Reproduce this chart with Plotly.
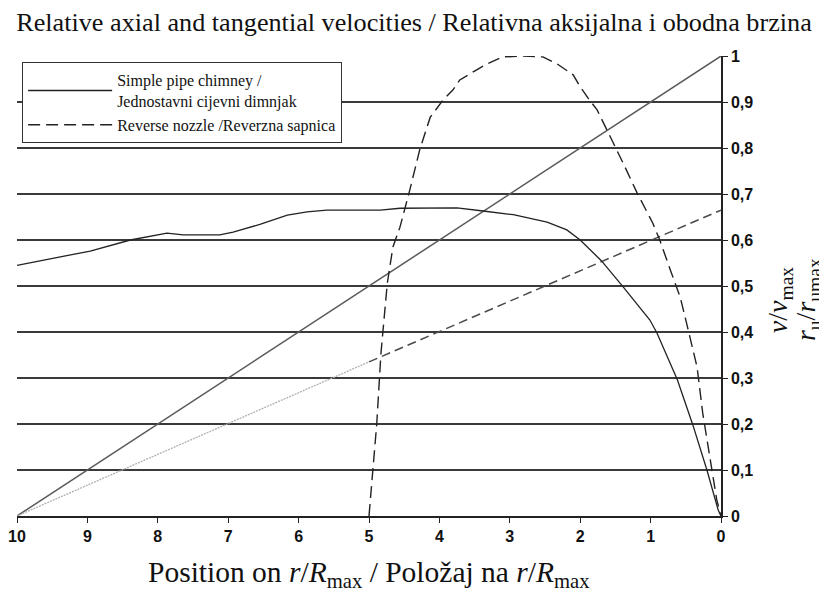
import plotly.graph_objects as go

# ---- data ----
x_ticks = [10, 9, 8, 7, 6, 5, 4, 3, 2, 1, 0]
y_ticks = [0, 0.1, 0.2, 0.3, 0.4, 0.5, 0.6, 0.7, 0.8, 0.9, 1.0]
y_ticklabels = ["0", "0,1", "0,2", "0,3", "0,4", "0,5", "0,6", "0,7", "0,8", "0,9", "1"]

pipe_name = "Simple pipe chimney /<br>Jednostavni cijevni dimnjak"
pipe_x = [10.0, 8.96, 8.39, 7.87, 7.64, 7.12, 6.93, 6.55, 6.16, 5.88, 5.6, 4.84, 4.56,
          4.23, 3.75, 3.38, 2.95, 2.47, 2.19, 2.0, 1.70, 1.39, 1.01, 0.91, 0.62, 0.40,
          0.20, 0.04, 0.0]
pipe_y = [0.545, 0.576, 0.600, 0.615, 0.611, 0.611, 0.617, 0.634, 0.654, 0.661, 0.665,
          0.665, 0.669, 0.670, 0.670, 0.663, 0.655, 0.639, 0.622, 0.600, 0.555, 0.498,
          0.426, 0.398, 0.296, 0.198, 0.100, 0.013, 0.0]

nozzle_name = "Reverse nozzle /Reverzna sapnica"
nozzle_x = [5.0, 4.94, 4.89, 4.83, 4.74, 4.66, 4.56, 4.42, 4.28, 4.13, 3.95, 3.81, 3.71,
            3.47, 3.32, 3.10, 2.81, 2.53, 2.33, 2.10, 2.0, 1.89, 1.76, 1.39, 1.19, 0.97,
            0.87, 0.72, 0.58, 0.49, 0.34, 0.26, 0.16, 0.06, 0.0]
nozzle_y = [0.0, 0.10, 0.20, 0.354, 0.506, 0.585, 0.628, 0.709, 0.796, 0.867, 0.904,
            0.926, 0.948, 0.970, 0.983, 0.998, 1.0, 0.998, 0.983, 0.959, 0.933, 0.909,
            0.883, 0.767, 0.702, 0.637, 0.600, 0.535, 0.476, 0.42, 0.324, 0.224, 0.128,
            0.035, 0.0]

radius_x = [10, 0]
radius_y = [0, 1]

tang_dot_x = [10, 5]
tang_dot_y = [0, 0.335]
tang_dash_x = [5, 0]
tang_dash_y = [0.335, 0.665]

# ---- figure ----
fig = go.Figure()

fig.add_trace(go.Scatter(x=radius_x, y=radius_y, mode="lines", showlegend=False,
                         line=dict(color="#5a5a5a", width=1.5), hoverinfo="skip"))
fig.add_trace(go.Scatter(x=tang_dot_x, y=tang_dot_y, mode="lines", showlegend=False,
                         line=dict(color="#b0b0b0", width=1.3, dash="2px,1px"), hoverinfo="skip"))
fig.add_trace(go.Scatter(x=tang_dash_x, y=tang_dash_y, mode="lines", showlegend=False,
                         line=dict(color="#4a4a4a", width=1.5, dash="9px,5px"), hoverinfo="skip"))
fig.add_trace(go.Scatter(x=pipe_x, y=pipe_y, mode="lines", name=pipe_name,
                         line=dict(color="#222222", width=1.3)))
fig.add_trace(go.Scatter(x=nozzle_x, y=nozzle_y, mode="lines", name=nozzle_name,
                         line=dict(color="#222222", width=1.4, dash="12px,6px")))

serif = "Liberation Serif, Times New Roman, serif"
sans = "Liberation Sans, Arial, sans-serif"

fig.update_layout(
    width=819, height=595,
    margin=dict(l=17, r=98, t=56, b=79, autoexpand=False),
    paper_bgcolor="white", plot_bgcolor="white",
    title=dict(text="Relative axial and tangential velocities / Relativna aksijalna i obodna brzina",
               x=414 / 819, xref="container", xanchor="center",
               y=1 - 22 / 595, yref="container", yanchor="middle",
               font=dict(family=serif, size=26.2, color="#111")),
    legend=dict(x=0.007, y=0.987, xanchor="left", yanchor="top",
                bgcolor="white", bordercolor="#333", borderwidth=1.2,
                font=dict(family=serif, size=16, color="#111"),
                itemwidth=84, tracegroupgap=0),
    showlegend=True,
    xaxis=dict(range=[10, 0], tickvals=x_ticks, ticktext=[str(v) for v in x_ticks],
               showgrid=False, zeroline=False, showline=True, linecolor="#222", linewidth=1.5,
               ticks="outside", ticklen=5, tickwidth=1.3, tickcolor="#222",
               tickfont=dict(family=sans, size=16, color="#111", weight="bold")),
    yaxis=dict(range=[0, 1.0], side="right", tickvals=y_ticks, ticktext=y_ticklabels,
               showgrid=True, gridcolor="#3a3a3a", gridwidth=1.5, zeroline=False,
               showline=True, linecolor="#222", linewidth=1.5,
               ticks="outside", ticklen=5, tickwidth=1.3, tickcolor="#222",
               tickfont=dict(family=sans, size=16, color="#111", weight="bold")),
    annotations=[
        dict(text="Position on <i>r</i>/<i>R</i><sub>max</sub> / Položaj na <i>r</i>/<i>R</i><sub>max</sub>",
             xref="paper", yref="paper", x=0.5, y=-0.127, xanchor="center", yanchor="middle",
             showarrow=False, font=dict(family=serif, size=29.5, color="#111")),
        dict(text="<i>v</i>/<i>v</i><sub>max</sub>", textangle=-90,
             xref="paper", yref="paper", x=1.083, y=0.47, xanchor="center", yanchor="middle",
             showarrow=False, font=dict(family=serif, size=28, color="#111")),
        dict(text="<i>r</i><sub>u</sub>/<i>r</i><sub>umax</sub>", textangle=-90,
             xref="paper", yref="paper", x=1.124, y=0.47, xanchor="center", yanchor="middle",
             showarrow=False, font=dict(family=serif, size=28, color="#111")),
    ],
)

fig.write_html("out.html", config={"displayModeBar": False},
               post_script="document.body.style.margin='0';document.body.style.padding='0';")
